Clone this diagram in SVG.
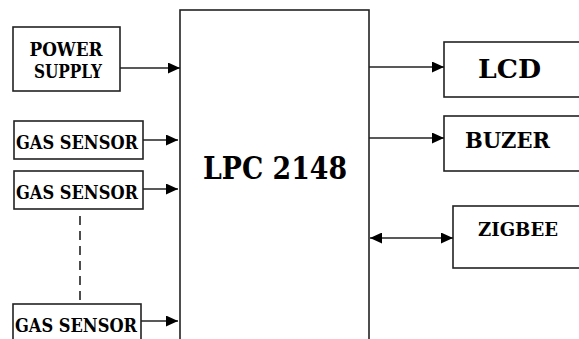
<svg xmlns="http://www.w3.org/2000/svg" width="579" height="339" viewBox="0 0 579 339">
<style>
.box{fill:#fff;stroke:#222;stroke-width:1.6}
.t{font-family:'DejaVu Serif',serif;font-weight:700;fill:#000}
.c{stroke:#222;stroke-width:1.6;fill:none}
</style>
<defs>
<marker id="ah" viewBox="0 0 12 11" refX="12" refY="5.5" markerWidth="12" markerHeight="11" markerUnits="userSpaceOnUse" orient="auto-start-reverse">
<path d="M0,0 L12,5.5 L0,11 z" fill="#000"/>
</marker>
</defs>
<rect width="579" height="339" fill="#fff"/>
<g id="lpc"><rect class="box" x="180" y="10" width="189" height="340"/>
<text class="t" x="203" y="179" font-size="31" textLength="144" lengthAdjust="spacingAndGlyphs">LPC 2148</text></g>
<g id="power"><rect class="box" x="13" y="27" width="107" height="64"/>
<text class="t" x="66" y="56" font-size="18" text-anchor="middle" textLength="73" lengthAdjust="spacingAndGlyphs">POWER</text>
<text class="t" x="68" y="78" font-size="18" text-anchor="middle" textLength="68" lengthAdjust="spacingAndGlyphs">SUPPLY</text></g>
<g id="gas1"><rect class="box" x="14" y="121" width="129" height="38"/>
<text class="t" x="16" y="149" font-size="18" textLength="122" lengthAdjust="spacingAndGlyphs">GAS SENSOR</text></g>
<g id="gas2"><rect class="box" x="14" y="171" width="129" height="38"/>
<text class="t" x="16" y="199" font-size="18" textLength="122" lengthAdjust="spacingAndGlyphs">GAS SENSOR</text></g>
<g id="gas3"><rect class="box" x="13" y="304" width="128" height="45"/>
<text class="t" x="15" y="332" font-size="18" textLength="122" lengthAdjust="spacingAndGlyphs">GAS SENSOR</text></g>
<g id="lcd"><rect class="box" x="444" y="42" width="145" height="55"/>
<text class="t" x="478" y="78" font-size="26" textLength="63" lengthAdjust="spacingAndGlyphs">LCD</text></g>
<g id="buzer"><rect class="box" x="444" y="116" width="145" height="55"/>
<text class="t" x="465" y="148" font-size="22" textLength="85" lengthAdjust="spacingAndGlyphs">BUZER</text></g>
<g id="zigbee"><rect class="box" x="453" y="206" width="136" height="62"/>
<text class="t" x="478" y="236" font-size="19" textLength="80" lengthAdjust="spacingAndGlyphs">ZIGBEE</text></g>
<g id="connectors">
<line class="c" x1="120" y1="68" x2="180" y2="68" marker-end="url(#ah)"/>
<line class="c" x1="143" y1="140" x2="178" y2="140" marker-end="url(#ah)"/>
<line class="c" x1="143" y1="189" x2="178" y2="189" marker-end="url(#ah)"/>
<line class="c" x1="141" y1="321" x2="178" y2="321" marker-end="url(#ah)"/>
<line class="c" x1="80" y1="216" x2="80" y2="300" stroke-dasharray="9,6"/>
<line class="c" x1="369" y1="67" x2="444" y2="67" marker-end="url(#ah)"/>
<line class="c" x1="369" y1="138" x2="444" y2="138" marker-end="url(#ah)"/>
<line class="c" x1="370" y1="238" x2="453" y2="238" marker-start="url(#ah)" marker-end="url(#ah)"/>
</g>
</svg>
